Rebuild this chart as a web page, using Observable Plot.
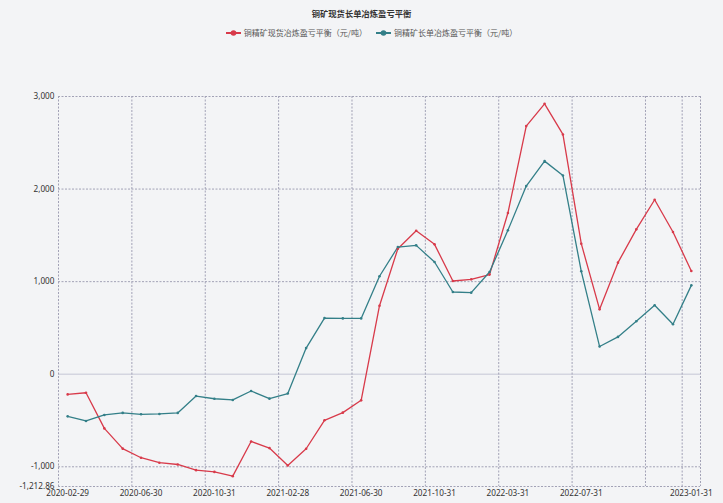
<!DOCTYPE html>
<html>
<head>
<meta charset="utf-8">
<script src="https://cdn.jsdelivr.net/npm/d3@7"></script>
<script src="https://cdn.jsdelivr.net/npm/@observablehq/plot@0.6"></script>
<style>
  html, body { margin: 0; padding: 0; background: #f3f4f6; }
  #wrap { position: relative; width: 723px; height: 503px; background: #f3f4f6; font-family: "Noto Sans", "Noto Sans CJK SC", sans-serif; }
  #title { position: absolute; top: 6px; left: 0; width: 723px; text-align: center; font-family: "Noto Sans CJK SC", sans-serif; font-weight: bold; font-size: 8.3px; color: #333; line-height: 14px; }
  #legend { position: absolute; top: 26px; left: 10px; width: 723px; display: flex; justify-content: center; gap: 9px; font-family: "Noto Sans CJK SC", sans-serif; font-size: 8px; color: #555; line-height: 14px; }
  #legend .item { display: flex; align-items: center; gap: 3px; }
  #chart { position: absolute; top: 0; left: 0; }
</style>
</head>
<body>
<div id="wrap">
  <div id="chart"></div>
  <div id="title"></div>
  <div id="legend"></div>
</div>
<script>
const titleText = "铜矿现货长单冶炼盈亏平衡";
const seriesNames = ["铜精矿现货冶炼盈亏平衡（元/吨）", "铜精矿长单冶炼盈亏平衡（元/吨）"];
const seriesColors = ["#d83a4a", "#337f88"];

const categories = [
  "2020-02-29","2020-03-31","2020-04-30","2020-05-31","2020-06-30","2020-07-31","2020-08-31","2020-09-30",
  "2020-10-31","2020-11-30","2020-12-31","2021-01-31","2021-02-28","2021-03-31","2021-04-30","2021-05-31",
  "2021-06-30","2021-07-31","2021-08-31","2021-09-30","2021-10-31","2021-11-30","2021-12-31","2022-02-28",
  "2022-03-31","2022-04-30","2022-05-31","2022-06-30","2022-07-31","2022-08-31","2022-09-30","2022-10-31",
  "2022-11-30","2022-12-31","2023-01-31"
];

const spotBalance = [
  -218, -200, -585, -804, -902, -956, -975, -1036, -1055, -1101, -726, -798, -986, -805, -498, -415,
  -282, 740, 1356, 1550, 1403, 1007, 1025, 1076, 1741, 2680, 2921, 2590, 1410, 701, 1205, 1565,
  1885, 1536, 1115
];

const longTermBalance = [
  -455, -505, -440, -418, -433, -429, -418, -236, -265, -278, -181, -264, -209, 282, 606, 603,
  603, 1058, 1374, 1392, 1212, 888, 881, 1104, 1554, 2032, 2302, 2147, 1112, 299, 403, 572,
  745, 540, 960
];

const yTicks = [3000, 2000, 1000, 0, -1000, -1212.86];
const xLabelIndex = [0, 4, 8, 12, 16, 20, 24, 28, 34];
const xGridIndex = [4, 8, 12, 16, 20, 24, 28, 32, 34];

// Build tidy table
const rows = [];
[spotBalance, longTermBalance].forEach((vals, s) => {
  vals.forEach((v, i) => rows.push({i, date: categories[i], value: v, series: seriesNames[s]}));
});

const n = categories.length;
const gridColor = "#a2a2b6";
const dash = "2,1.5";
const gridX = [-0.5, ...xGridIndex.map(i => i - 0.5), n - 0.5];

const chart = Plot.plot({
  width: 723,
  height: 503,
  marginTop: 96,
  marginLeft: 58,
  marginRight: 23,
  marginBottom: 17,
  style: {background: "transparent", fontFamily: "'Noto Sans', 'Noto Sans CJK SC', sans-serif", fontSize: "8.2px", color: "#333"},
  x: {type: "linear", domain: [-0.5, n - 0.5], axis: null},
  y: {domain: [-1212.86, 3000], axis: null},
  color: {domain: seriesNames, range: seriesColors},
  marks: [
    Plot.ruleY(yTicks.filter(d => d !== 0), {stroke: gridColor, strokeDasharray: dash, strokeWidth: 1}),
    Plot.ruleY([0], {stroke: "#d4d5e0", strokeWidth: 1.5}),
    Plot.ruleX(gridX, {stroke: gridColor, strokeDasharray: dash, strokeWidth: 1}),
    Plot.axisY({ticks: yTicks, tickSize: 0, tickPadding: 4, label: null, tickFormat: d => d.toLocaleString("en-US"), fill: "#333"}),
    Plot.axisX({ticks: xLabelIndex, tickSize: 0, tickPadding: 4, label: null, tickFormat: i => categories[i], fill: "#333"}),
    Plot.line(rows, {x: "i", y: "value", stroke: "series", z: "series", strokeWidth: 1.3}),
    Plot.dot(rows, {x: "i", y: "value", fill: "series", r: 1.3})
  ]
});
document.getElementById("chart").appendChild(chart);

document.getElementById("title").textContent = titleText;
const legend = document.getElementById("legend");
seriesNames.forEach((name, s) => {
  const item = document.createElement("div");
  item.className = "item";
  const svgNS = "http://www.w3.org/2000/svg";
  const sw = document.createElementNS(svgNS, "svg");
  sw.setAttribute("width", 15); sw.setAttribute("height", 8);
  const ln = document.createElementNS(svgNS, "line");
  ln.setAttribute("x1", 0); ln.setAttribute("x2", 15); ln.setAttribute("y1", 4); ln.setAttribute("y2", 4);
  ln.setAttribute("stroke", seriesColors[s]); ln.setAttribute("stroke-width", 2);
  const c = document.createElementNS(svgNS, "circle");
  c.setAttribute("cx", 7.5); c.setAttribute("cy", 4); c.setAttribute("r", 2.8); c.setAttribute("fill", seriesColors[s]);
  sw.appendChild(ln); sw.appendChild(c);
  const t = document.createElement("span");
  t.textContent = name;
  item.appendChild(sw); item.appendChild(t);
  legend.appendChild(item);
});
</script>
</body>
</html>
